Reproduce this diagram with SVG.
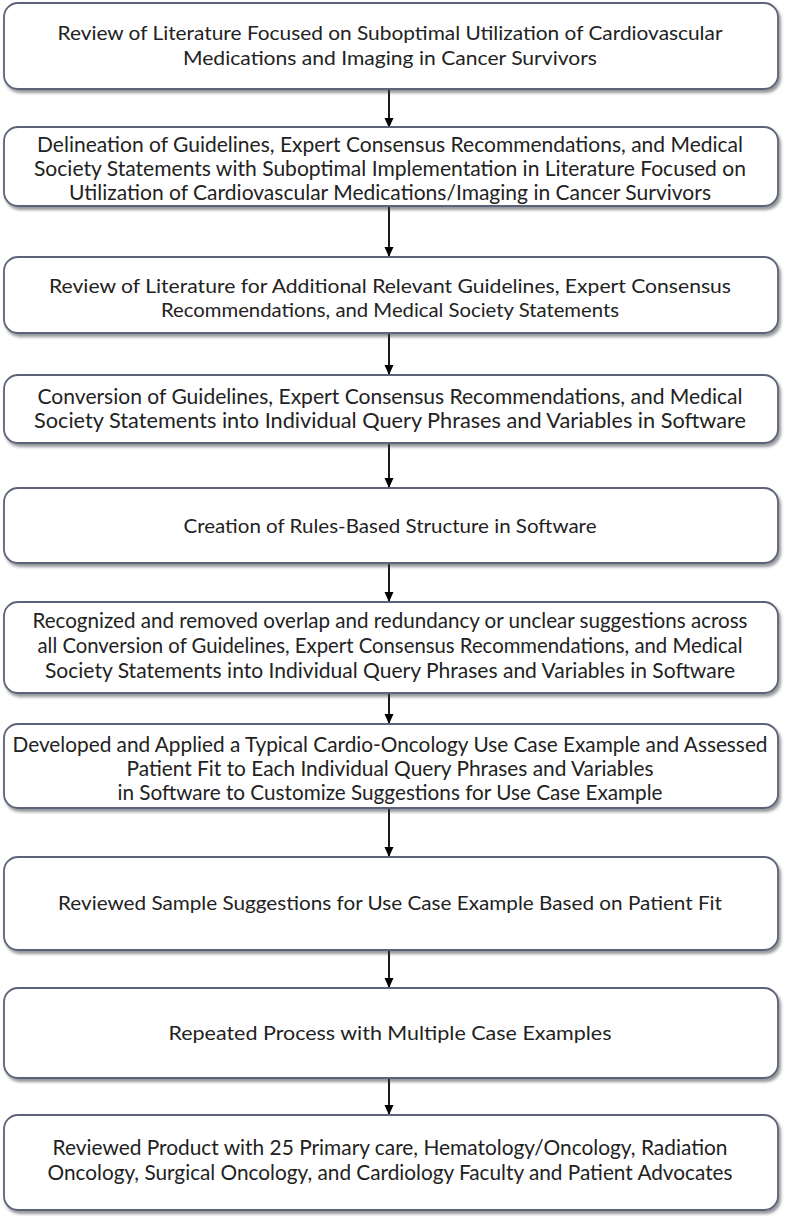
<svg xmlns="http://www.w3.org/2000/svg" width="786" height="1216" viewBox="0 0 786 1216">
<defs>
<filter id="sh" x="-5%" y="-20%" width="110%" height="150%">
<feDropShadow dx="2" dy="3" stdDeviation="1.8" flood-color="#3a3f4a" flood-opacity="0.55"/>
</filter>
<marker id="ah" markerWidth="10" markerHeight="10" refX="9" refY="5" orient="auto" markerUnits="userSpaceOnUse">
<path d="M0,0.5 L10,5 L0,9.5 Z" fill="#000"/>
</marker>
<style>
.box{fill:#fff;stroke:#5b6478;stroke-width:1.8;filter:url(#sh)}
.t{font-family:Lato,"Liberation Sans",sans-serif;font-size:20px;fill:#222;text-anchor:middle}
.c{font-size:21px}
.arr{stroke:#000;stroke-width:1.8;fill:none;marker-end:url(#ah)}
</style>
</defs>
<g id="connectors">
<line class="arr" x1="389" y1="90" x2="389" y2="127"/>
<line class="arr" x1="389" y1="207" x2="389" y2="256"/>
<line class="arr" x1="389" y1="334" x2="389" y2="374"/>
<line class="arr" x1="389" y1="444" x2="389" y2="487"/>
<line class="arr" x1="389" y1="564" x2="389" y2="601"/>
<line class="arr" x1="389" y1="694" x2="389" y2="723"/>
<line class="arr" x1="389" y1="809" x2="389" y2="856"/>
<line class="arr" x1="389" y1="951" x2="389" y2="987"/>
<line class="arr" x1="389" y1="1079" x2="389" y2="1114"/>
</g>
<g id="n1">
<rect class="box" x="4" y="3" width="774" height="86" rx="14"/>
<text class="t" x="390" y="40" textLength="665" lengthAdjust="spacingAndGlyphs">Review of Literature Focused on Suboptimal Utilization of Cardiovascular</text>
<text class="t" x="390" y="65" textLength="414" lengthAdjust="spacingAndGlyphs">Medications and Imaging in Cancer Survivors</text>
</g>
<g id="n2">
<rect class="box" x="4" y="127" width="774" height="79" rx="14"/>
<text class="t c" x="390" y="152" textLength="706" lengthAdjust="spacingAndGlyphs">Delineation of Guidelines, Expert Consensus Recommendations, and Medical</text>
<text class="t c" x="390" y="176" textLength="712" lengthAdjust="spacingAndGlyphs">Society Statements with Suboptimal Implementation in Literature Focused on</text>
<text class="t c" x="390" y="200" textLength="642" lengthAdjust="spacingAndGlyphs">Utilization of Cardiovascular Medications/Imaging in Cancer Survivors</text>
</g>
<g id="n3">
<rect class="box" x="4" y="257" width="774" height="76" rx="14"/>
<text class="t" x="390" y="293" textLength="682" lengthAdjust="spacingAndGlyphs">Review of Literature for Additional Relevant Guidelines, Expert Consensus</text>
<text class="t" x="390" y="317" textLength="458" lengthAdjust="spacingAndGlyphs">Recommendations, and Medical Society Statements</text>
</g>
<g id="n4">
<rect class="box" x="4" y="375" width="774" height="68" rx="14"/>
<text class="t c" x="390" y="404" textLength="705" lengthAdjust="spacingAndGlyphs">Conversion of Guidelines, Expert Consensus Recommendations, and Medical</text>
<text class="t c" x="390" y="428" textLength="712" lengthAdjust="spacingAndGlyphs">Society Statements into Individual Query Phrases and Variables in Software</text>
</g>
<g id="n5">
<rect class="box" x="4" y="488" width="774" height="75" rx="14"/>
<text class="t" x="390" y="533" textLength="413" lengthAdjust="spacingAndGlyphs">Creation of Rules-Based Structure in Software</text>
</g>
<g id="n6">
<rect class="box" x="4" y="602" width="774" height="91" rx="14"/>
<text class="t c" x="390" y="628" textLength="715" lengthAdjust="spacingAndGlyphs">Recognized and removed overlap and redundancy or unclear suggestions across</text>
<text class="t c" x="390" y="653" textLength="705" lengthAdjust="spacingAndGlyphs">all Conversion of Guidelines, Expert Consensus Recommendations, and Medical</text>
<text class="t c" x="390" y="678" textLength="690" lengthAdjust="spacingAndGlyphs">Society Statements into Individual Query Phrases and Variables in Software</text>
</g>
<g id="n7">
<rect class="box" x="4" y="724" width="774" height="84" rx="14"/>
<text class="t c" x="390" y="752" textLength="755" lengthAdjust="spacingAndGlyphs">Developed and Applied a Typical Cardio-Oncology Use Case Example and Assessed</text>
<text class="t c" x="390" y="776" textLength="527" lengthAdjust="spacingAndGlyphs">Patient Fit to Each Individual Query Phrases and Variables</text>
<text class="t c" x="390" y="800" textLength="545" lengthAdjust="spacingAndGlyphs">in Software to Customize Suggestions for Use Case Example</text>
</g>
<g id="n8">
<rect class="box" x="4" y="857" width="774" height="93" rx="14"/>
<text class="t" x="390" y="910" textLength="664" lengthAdjust="spacingAndGlyphs">Reviewed Sample Suggestions for Use Case Example Based on Patient Fit</text>
</g>
<g id="n9">
<rect class="box" x="4" y="988" width="774" height="90" rx="14"/>
<text class="t" x="390" y="1040" textLength="443" lengthAdjust="spacingAndGlyphs">Repeated Process with Multiple Case Examples</text>
</g>
<g id="n10">
<rect class="box" x="4" y="1115" width="774" height="95" rx="14"/>
<text class="t c" x="390" y="1155" textLength="675" lengthAdjust="spacingAndGlyphs">Reviewed Product with 25 Primary care, Hematology/Oncology, Radiation</text>
<text class="t c" x="390" y="1180" textLength="685" lengthAdjust="spacingAndGlyphs">Oncology, Surgical Oncology, and Cardiology Faculty and Patient Advocates</text>
</g>
</svg>
